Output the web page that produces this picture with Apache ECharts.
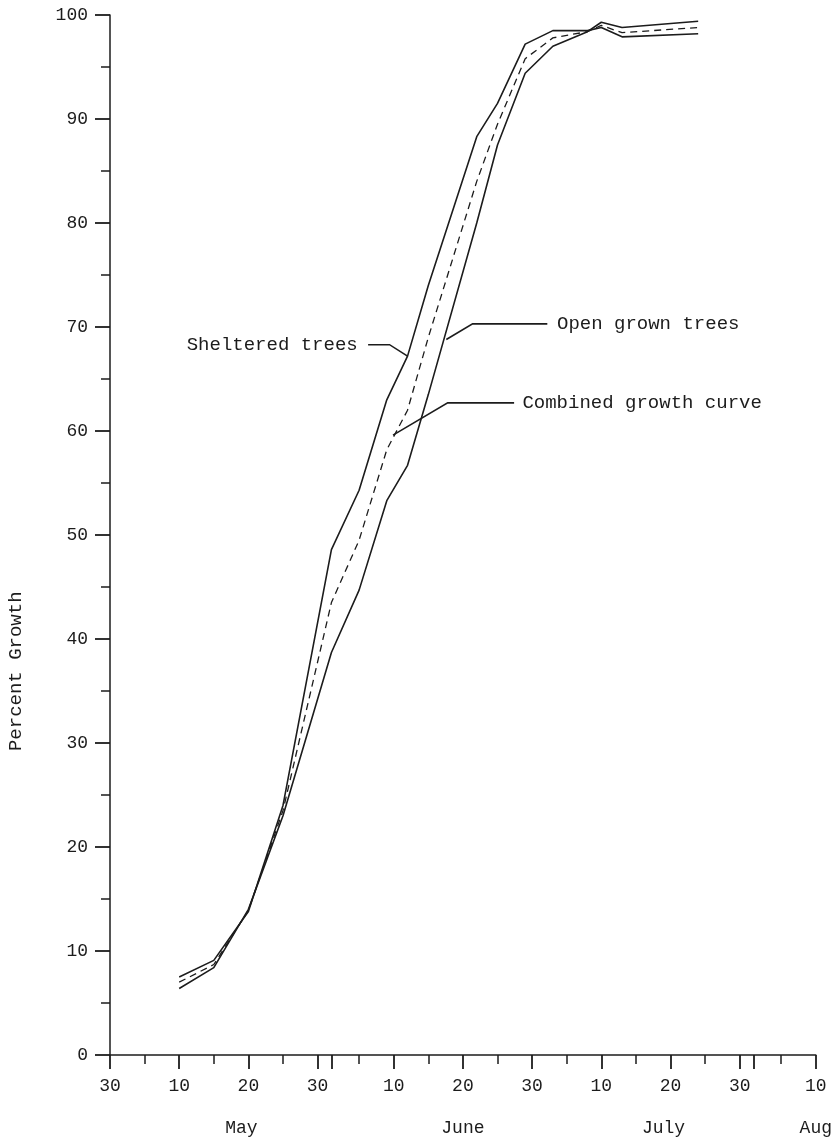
<!DOCTYPE html>
<html><head><meta charset="utf-8">
<script src="https://cdn.jsdelivr.net/npm/echarts@6/dist/echarts.min.js"></script>
<style>html,body{margin:0;padding:0;background:#fff}#c{width:835px;height:1139px}</style>
</head><body><div id="c"></div>
<script>
// x values: days after April 30
const days      = [10,  15,  20,   25,   32,   36,   40,   43,   46,   53,   56,   60,   64,   69,   71,   74,   85];
const sheltered = [7.5, 9.1, 13.8, 24.0, 48.6, 54.3, 63.0, 67.2, 74.0, 88.3, 91.5, 97.2, 98.5, 98.5, 98.8, 97.9, 98.2];
const openGrown = [6.4, 8.4, 14.0, 23.0, 38.7, 44.7, 53.3, 56.7, 63.5, 80.0, 87.5, 94.4, 97.0, 98.4, 99.3, 98.8, 99.4];
const combined  = [7.0, 8.7, 13.9, 23.5, 43.5, 49.5, 58.2, 62.0, 69.0, 84.0, 89.5, 95.8, 97.8, 98.4, 99.0, 98.3, 98.8];

const yTickValues = [0,10,20,30,40,50,60,70,80,90,100];
const xLabelDays  = [0, 10, 20, 30, 41, 51, 61, 71, 81, 91, 102];
const xLabelTexts = ['30','10','20','30','10','20','30','10','20','30','10'];
const xMajorTickDays = [0,10,20,30,32,41,51,61,71,81,91,93,102];
const xMinorTickDays = [5,15,25,36,46,56,66,76,86,97];
const monthDays  = [19, 51, 80, 102];
const monthNames = ['May','June','July','Aug'];

const FONT = 'Liberation Mono';
const INK = '#1c1c1c';

const chart = echarts.init(document.getElementById('c'), null, {renderer:'canvas'});
const baseX = {type:'value', min:0, max:102, position:'bottom', gridIndex:0,
  splitLine:{show:false}, axisLine:{show:false}, axisTick:{show:false}, axisLabel:{show:false}};

chart.setOption({
  animation:false,
  backgroundColor:'#fff',
  grid:{left:110, right:17, top:15, bottom:84, containLabel:false},
  xAxis:[
    Object.assign({}, baseX, {
      axisLine:{show:true, onZero:false, lineStyle:{color:INK, width:1.5}},
      axisTick:{show:true, customValues:xMajorTickDays, length:14, lineStyle:{color:INK, width:1.8}},
      axisLabel:{show:true, customValues:xLabelDays, margin:22, color:INK, fontFamily:FONT, fontSize:18,
        formatter:function(v){ const i = xLabelDays.indexOf(v); return i>=0 ? xLabelTexts[i] : ''; }}
    }),
    Object.assign({}, baseX, {
      axisTick:{show:true, customValues:xMinorTickDays, length:9, lineStyle:{color:INK, width:1.5}}
    }),
    Object.assign({}, baseX, {
      axisLabel:{show:true, customValues:monthDays, margin:64, color:INK, fontFamily:FONT, fontSize:18,
        formatter:function(v){ const i = monthDays.indexOf(v); return i>=0 ? monthNames[i] : ''; }}
    })
  ],
  yAxis:{type:'value', min:0, max:100, interval:10,
    axisLine:{show:true, lineStyle:{color:INK, width:1.5}},
    axisTick:{show:true, length:15, lineStyle:{color:INK, width:1.8}},
    minorTick:{show:true, splitNumber:2, length:9, lineStyle:{color:INK, width:1.5}},
    splitLine:{show:false}, minorSplitLine:{show:false},
    axisLabel:{margin:22, color:INK, fontFamily:FONT, fontSize:18,
      formatter:function(v){ return yTickValues.indexOf(v)>=0 ? String(v) : ''; }}
  },
  series:[
    {name:'Sheltered trees', type:'line', xAxisIndex:0, data:days.map((d,i)=>[d,sheltered[i]]),
      symbol:'none', lineStyle:{color:INK, width:1.6}},
    {name:'Open grown trees', type:'line', xAxisIndex:0, data:days.map((d,i)=>[d,openGrown[i]]),
      symbol:'none', lineStyle:{color:INK, width:1.6}},
    {name:'Combined growth curve', type:'line', xAxisIndex:0, data:days.map((d,i)=>[d,combined[i]]),
      symbol:'none', lineStyle:{color:INK, width:1.3, type:[7,5]}}
  ]
});

// annotations in data coordinates
const annotations = [
  {text:'Sheltered trees', side:'left', path:[[35.8,68.3],[37.3,68.3],[40.4,68.3],[43,67.2]]},
  {text:'Open grown trees', side:'right', path:[[64.6,70.3],[63.2,70.3],[52.4,70.3],[48.6,68.8]]},
  {text:'Combined growth curve', side:'right', path:[[59.6,62.7],[58.4,62.7],[48.8,62.7],[40.9,59.6]]}
];
const graphics = [];
annotations.forEach(a=>{
  const pts = a.path.map(p=>chart.convertToPixel({gridIndex:0}, p));
  const t = pts[0];
  graphics.push({type:'text', x:t[0], y:t[1],
    style:{text:a.text, fill:INK, font:'19px "'+FONT+'"', textAlign:a.side==='left'?'right':'left', textVerticalAlign:'middle'}});
  graphics.push({type:'polyline', shape:{points:pts.slice(1)}, style:{stroke:INK, lineWidth:1.6, fill:null}});
});
const nameP = chart.convertToPixel({gridIndex:0}, [0, 36.9]);
graphics.push({type:'text', x:16, y:nameP[1], rotation:Math.PI/2,
  style:{text:'Percent Growth', fill:INK, font:'19px "'+FONT+'"', textAlign:'center', textVerticalAlign:'middle'}});
chart.setOption({graphic:graphics});
</script>
</body></html>
